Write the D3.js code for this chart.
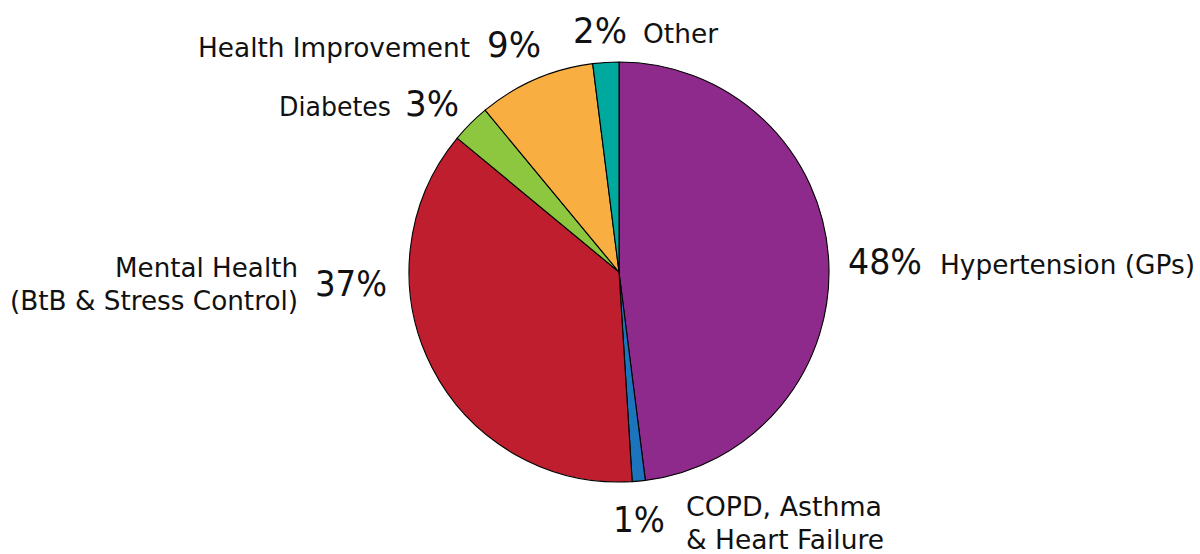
<!DOCTYPE html>
<html>
<head>
<meta charset="utf-8">
<script src="https://cdn.jsdelivr.net/npm/d3@7"></script>
<style>
  html, body { margin: 0; padding: 0; background: #fff; }
  svg { display: block; }
  text { font-family: "DejaVu Sans", "Open Sans", sans-serif; fill: #111; }
</style>
</head>
<body>
<svg id="chart" width="1200" height="554"></svg>
<script>
// Share of activity by programme area (percent)
const categories = [
  "Hypertension (GPs)",
  "COPD, Asthma & Heart Failure",
  "Mental Health (BtB & Stress Control)",
  "Diabetes",
  "Health Improvement",
  "Other"
];
const shares = [48, 1, 37, 3, 9, 2];
const percentLabels = ["48%", "1%", "37%", "3%", "9%", "2%"];
const colours = ["#8E2A8C", "#1C75BC", "#BE1E2D", "#8DC63F", "#F9AE42", "#00A99D"];

// Label layout: each category gets a name block (one or two lines) and a percentage
const labelLayout = [
  { pct: [848, 274, 74], lines: [["Hypertension (GPs)", 940, 274, 255, "start"]] },
  { pct: [613, 532, 52], lines: [["COPD, Asthma", 686, 516, 196, "start"], ["& Heart Failure", 686, 549, 198, "start"]] },
  { pct: [315, 296, 72], lines: [["Mental Health", 298, 277, 183, "end"], ["(BtB & Stress Control)", 298, 310, 288, "end"]] },
  { pct: [405, 116, 54], lines: [["Diabetes", 391, 116, 112, "end"]] },
  { pct: [487, 57, 54], lines: [["Health Improvement", 470, 57, 272, "end"]] },
  { pct: [573, 43, 54], lines: [["Other", 643, 43, 75, "start"]] }
];

const svg = d3.select("#chart");
const cx = 619, cy = 272, radius = 210;

const pie = d3.pie().sort(null).value(d => d);
const arc = d3.arc().innerRadius(0).outerRadius(radius);

const g = svg.append("g").attr("transform", `translate(${cx},${cy})`);
g.selectAll("path")
  .data(pie(shares))
  .join("path")
  .attr("d", arc)
  .attr("fill", (d, i) => colours[i])
  .attr("stroke", "#000")
  .attr("stroke-width", 1.1)
  .attr("stroke-linejoin", "round");

// Labels
const labels = svg.append("g");
labelLayout.forEach((lay, i) => {
  const [px, py, pw] = lay.pct;
  labels.append("text")
    .attr("x", px).attr("y", py)
    .attr("font-size", 35)
    .attr("textLength", pw)
    .attr("lengthAdjust", "spacingAndGlyphs")
    .text(percentLabels[i]);
  lay.lines.forEach(([t, x, y, w, anchor]) => {
    labels.append("text")
      .attr("x", x).attr("y", y)
      .attr("font-size", 27)
      .attr("text-anchor", anchor)
      .attr("textLength", w)
      .attr("lengthAdjust", "spacingAndGlyphs")
      .text(t);
  });
});
</script>
</body>
</html>
